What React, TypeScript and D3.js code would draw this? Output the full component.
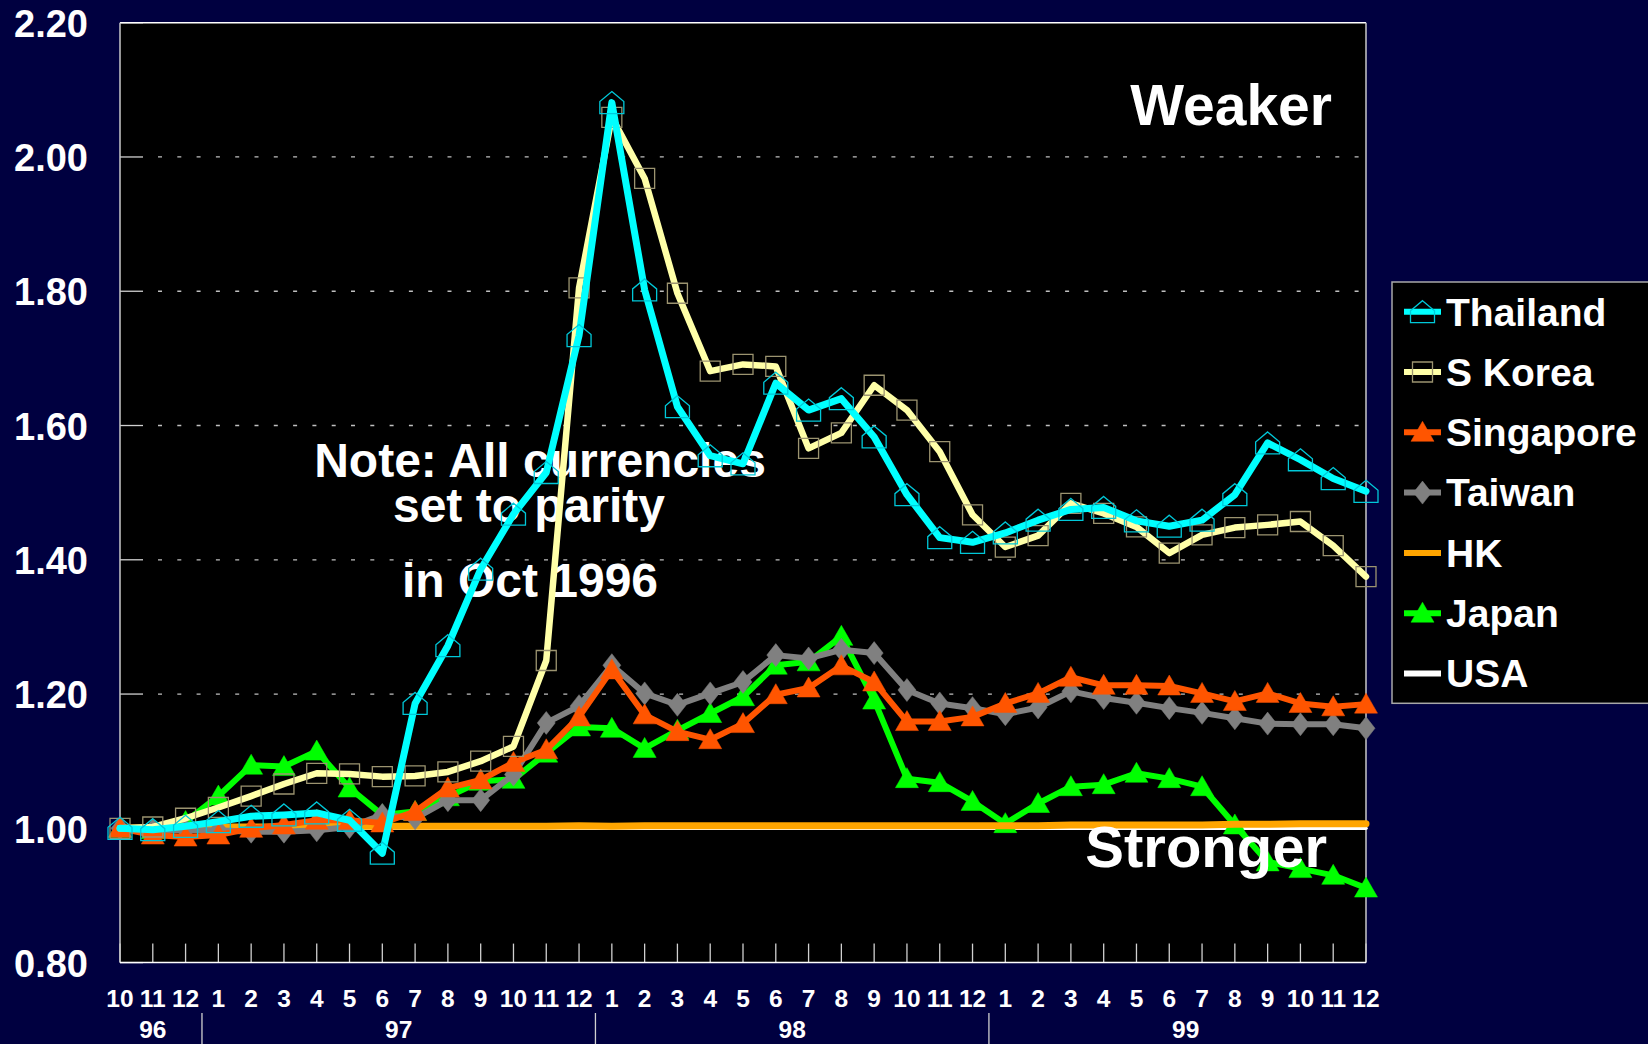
import React from "react";
import * as d3 from "d3";

const months = ["10","11","12","1","2","3","4","5","6","7","8","9","10","11","12","1","2","3","4","5","6","7","8","9","10","11","12","1","2","3","4","5","6","7","8","9","10","11","12"];
const years = [
  { label: "96", start: 0, end: 2 },
  { label: "97", start: 3, end: 14 },
  { label: "98", start: 15, end: 26 },
  { label: "99", start: 27, end: 38 },
];
const yTicks = [0.8, 1.0, 1.2, 1.4, 1.6, 1.8, 2.0, 2.2];

const thailand = [1.0, 0.998, 1.003, 1.01, 1.018, 1.02, 1.023, 1.012, 0.963, 1.186, 1.272, 1.386, 1.468, 1.53, 1.734, 2.081, 1.802, 1.628, 1.555, 1.543, 1.663, 1.623, 1.64, 1.583, 1.497, 1.433, 1.426, 1.44, 1.459, 1.475, 1.478, 1.458, 1.45, 1.459, 1.497, 1.574, 1.549, 1.521, 1.502];
const skorea = [1.0, 1.002, 1.015, 1.031, 1.048, 1.066, 1.082, 1.081, 1.077, 1.078, 1.084, 1.1, 1.122, 1.25, 1.805, 2.059, 1.968, 1.797, 1.681, 1.691, 1.688, 1.566, 1.589, 1.66, 1.623, 1.561, 1.467, 1.419, 1.436, 1.484, 1.469, 1.449, 1.41, 1.437, 1.448, 1.452, 1.457, 1.421, 1.375];
const singapore = [1.0, 0.99, 0.987, 0.99, 1.0, 1.005, 1.012, 1.012, 1.008, 1.025, 1.06, 1.072, 1.098, 1.117, 1.166, 1.236, 1.169, 1.144, 1.132, 1.156, 1.199, 1.209, 1.242, 1.218, 1.159, 1.159, 1.166, 1.186, 1.201, 1.225, 1.213, 1.213, 1.212, 1.201, 1.189, 1.201, 1.186, 1.181, 1.185];
const taiwan = [1.0, 0.997, 0.997, 0.997, 0.995, 0.995, 0.997, 1.002, 1.02, 1.015, 1.042, 1.042, 1.08, 1.157, 1.182, 1.243, 1.201, 1.184, 1.201, 1.218, 1.258, 1.253, 1.266, 1.261, 1.206, 1.186, 1.179, 1.17, 1.18, 1.204, 1.194, 1.187, 1.179, 1.172, 1.164, 1.156, 1.155, 1.155, 1.149];
const hk = [1.0, 1.001, 1.001, 1.002, 1.002, 1.002, 1.003, 1.003, 1.003, 1.003, 1.003, 1.003, 1.003, 1.003, 1.004, 1.003, 1.004, 1.004, 1.004, 1.004, 1.004, 1.004, 1.004, 1.004, 1.004, 1.004, 1.004, 1.004, 1.004, 1.005, 1.005, 1.005, 1.005, 1.005, 1.006, 1.006, 1.007, 1.007, 1.007];
const japan = [1.0, 0.998, 1.01, 1.048, 1.094, 1.092, 1.115, 1.06, 1.02, 1.025, 1.047, 1.07, 1.073, 1.112, 1.151, 1.149, 1.119, 1.146, 1.171, 1.196, 1.243, 1.248, 1.286, 1.191, 1.074, 1.068, 1.04, 1.007, 1.037, 1.062, 1.065, 1.082, 1.074, 1.062, 1.005, 0.95, 0.94, 0.93, 0.911];
const usa = [1.0, 1.0, 1.0, 1.0, 1.0, 1.0, 1.0, 1.0, 1.0, 1.0, 1.0, 1.0, 1.0, 1.0, 1.0, 1.0, 1.0, 1.0, 1.0, 1.0, 1.0, 1.0, 1.0, 1.0, 1.0, 1.0, 1.0, 1.0, 1.0, 1.0, 1.0, 1.0, 1.0, 1.0, 1.0, 1.0, 1.0, 1.0, 1.0];

type Series = { name: string; values: number[]; color: string; width: number; marker: string; mcolor: string };

const series: Series[] = [
  { name: "Thailand", values: thailand, color: "#00FFFF", width: 7, marker: "house", mcolor: "#00C8D8" },
  { name: "S Korea", values: skorea, color: "#FFFFA8", width: 6.5, marker: "square", mcolor: "#9C9470" },
  { name: "Singapore", values: singapore, color: "#FF5500", width: 6, marker: "triangle", mcolor: "#FF5500" },
  { name: "Taiwan", values: taiwan, color: "#808080", width: 6, marker: "diamond", mcolor: "#808080" },
  { name: "HK", values: hk, color: "#FFA500", width: 7, marker: "none", mcolor: "#FFA500" },
  { name: "Japan", values: japan, color: "#00FF00", width: 6, marker: "triangle", mcolor: "#00FF00" },
  { name: "USA", values: usa, color: "#FFFFFF", width: 3.5, marker: "none", mcolor: "#FFFFFF" },
];

const FONT = "'Liberation Sans', Arial, Helvetica, sans-serif";

function markerPath(kind: string, cx: number, cy: number): string {
  switch (kind) {
    case "house":
      return `M${cx},${cy - 11} L${cx + 12},${cy - 1} L${cx + 12},${cy + 11} L${cx - 12},${cy + 11} L${cx - 12},${cy - 1} Z`;
    case "square":
      return `M${cx - 10},${cy - 10} h20 v20 h-20 Z`;
    case "triangle":
      return `M${cx},${cy - 11} L${cx + 11.5},${cy + 9} L${cx - 11.5},${cy + 9} Z`;
    case "diamond":
      return `M${cx},${cy - 11.5} L${cx + 9},${cy} L${cx},${cy + 11.5} L${cx - 9},${cy} Z`;
    default:
      return "";
  }
}

function Marker({ kind, cx, cy, color }: { kind: string; cx: number; cy: number; color: string }) {
  if (kind === "none") return null;
  const outline = kind === "house" || kind === "square";
  return (
    <path
      d={markerPath(kind, cx, cy)}
      fill={outline ? "none" : color}
      stroke={color}
      strokeWidth={outline ? 1.3 : 0.5}
    />
  );
}

export default function App() {
  const W = 1648;
  const H = 1044;
  const left = 120;
  const right = 1366;
  const top = 22.7;
  const bottom = 962.6;

  const x = d3.scaleLinear().domain([0, months.length - 1]).range([left, right]);
  const y = d3.scaleLinear().domain([0.8, 2.2]).range([bottom, top]);
  const line = d3
    .line<number>()
    .x((_, i) => x(i))
    .y((d) => y(d));

  const drawOrder = [...series].reverse();
  const legendX = 1392;
  const legendTop = 282;
  const legendRowY = (k: number) => 311.7 + k * 60.3;

  return (
    <svg
      width={W}
      height={H}
      viewBox={`0 0 ${W} ${H}`}
      style={{ position: "absolute", left: 0, top: 0, display: "block" }}
      fontFamily={FONT}
    >
      <rect x={0} y={0} width={W} height={H} fill="#000040" />
      <rect x={left} y={top} width={right - left} height={bottom - top} fill="#000000" />

      {/* gridlines */}
      {yTicks
        .filter((t) => t > 0.81 && t < 2.19)
        .map((t) => (
          <line
            key={"g" + t}
            x1={left + 23}
            x2={right - 4}
            y1={y(t)}
            y2={y(t)}
            stroke="#BFBFBF"
            strokeWidth={1.3}
            strokeDasharray="4 15.3"
            strokeDashoffset={-15}
          />
        ))}
      {/* y ticks */}
      {yTicks.map((t) => (
        <line key={"yt" + t} x1={left} x2={left + 23} y1={y(t)} y2={y(t)} stroke="#D0D0D0" strokeWidth={1.3} />
      ))}
      {/* x ticks */}
      {months.map((_, i) => (
        <line key={"xt" + i} x1={x(i)} x2={x(i)} y1={bottom - 19} y2={bottom} stroke="#D0D0D0" strokeWidth={1.3} />
      ))}

      {/* frame */}
      <line x1={left} x2={right} y1={top} y2={top} stroke="#FFFFFF" strokeWidth={1.5} />
      <line x1={left} x2={left} y1={top} y2={bottom} stroke="#C8C8C8" strokeWidth={1.5} />
      <line x1={right} x2={right} y1={top} y2={bottom} stroke="#C8C8C8" strokeWidth={1.5} />
      <line x1={left} x2={right} y1={bottom} y2={bottom} stroke="#FFFFFF" strokeWidth={1.5} />

      {/* annotation text */}
      <g fill="#FFFFFF" fontWeight="bold">
        <text x={1332} y={125} fontSize={57} textAnchor="end">Weaker</text>
        <text x={540} y={477} fontSize={48} textAnchor="middle">Note: All currencies</text>
        <text x={529} y={522} fontSize={48} textAnchor="middle">set to parity</text>
        <text x={530} y={597} fontSize={48} textAnchor="middle">in Oct 1996</text>
      </g>

      {/* series */}
      {drawOrder.map((s) => (
        <g key={s.name}>
          <path
            d={line(s.values) || ""}
            fill="none"
            stroke={s.color}
            strokeWidth={s.width}
            strokeLinejoin="round"
            strokeLinecap="round"
          />
          {s.values.map((v, i) => (
            <Marker key={i} kind={s.marker} cx={x(i)} cy={y(v)} color={s.mcolor} />
          ))}
        </g>
      ))}

      <text x={1327} y={866.7} fontSize={58} textAnchor="end" fill="#FFFFFF" fontWeight="bold">Stronger</text>

      {/* y labels */}
      {yTicks.map((t) => (
        <text key={"yl" + t} x={88} y={y(t) + 14.2} fontSize={38} fontWeight="bold" fill="#FFFFFF" textAnchor="end">
          {t.toFixed(2)}
        </text>
      ))}

      {/* month labels */}
      {months.map((m, i) => (
        <text key={"ml" + i} x={x(i)} y={1006.5} fontSize={24.5} fontWeight="bold" fill="#FFFFFF" textAnchor="middle">
          {m}
        </text>
      ))}
      {/* year labels */}
      {years.map((yr, k) => (
        <g key={yr.label}>
          <text x={(x(yr.start) + x(yr.end)) / 2} y={1038.3} fontSize={24.5} fontWeight="bold" fill="#FFFFFF" textAnchor="middle">
            {yr.label}
          </text>
          {k < years.length - 1 && (
            <line
              x1={x(yr.end + 0.5)}
              x2={x(yr.end + 0.5)}
              y1={1013}
              y2={H}
              stroke="#D0D0D0"
              strokeWidth={1.3}
            />
          )}
        </g>
      ))}

      {/* legend */}
      <rect x={legendX} y={legendTop} width={W - legendX + 10} height={703.3 - legendTop} fill="#000000" stroke="#A8A8A8" strokeWidth={1.5} />
      {series.map((s, k) => {
        const cy = legendRowY(k);
        return (
          <g key={"lg" + s.name}>
            <line x1={1404} x2={1441} y1={cy} y2={cy} stroke={s.color} strokeWidth={6} />
            <Marker kind={s.marker} cx={1422.5} cy={cy} color={s.mcolor} />
            <text x={1446} y={cy + 13.8} fontSize={39} fontWeight="bold" fill="#FFFFFF">
              {s.name}
            </text>
          </g>
        );
      })}
    </svg>
  );
}
